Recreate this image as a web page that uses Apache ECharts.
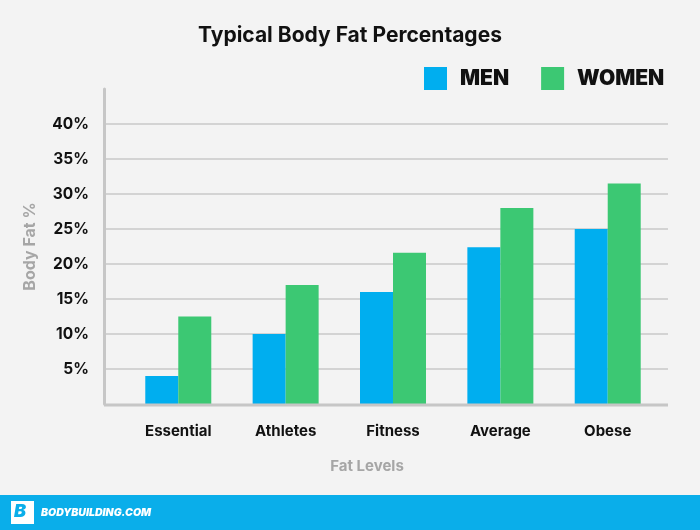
<!DOCTYPE html>
<html><head><meta charset="utf-8">
<script src="https://cdn.jsdelivr.net/npm/echarts@6/dist/echarts.min.js"></script>
<style>html,body{margin:0;padding:0;background:#f3f3f3}#c{width:700px;height:530px}</style>
</head><body><div id="c"></div>
<script>
const categories = ['Essential', 'Athletes', 'Fitness', 'Average', 'Obese'];
const men = [4, 10, 16, 22.4, 25];
const women = [12.5, 17, 21.6, 28, 31.5];
const seriesNames = ['MEN', 'WOMEN'];
const yMin = 0, yMax = 45, yStep = 5;

const FONT = 'Inter, "Open Sans", sans-serif';
const chart = echarts.init(document.getElementById('c'), null, {renderer: 'canvas'});
chart.setOption({
  backgroundColor: '#f3f3f3',
  animation: false,
  title: [{
    text: 'Typical Body Fat Percentages', left: 'center', top: 20,
    textStyle: {fontFamily: FONT, fontWeight: 'bold', fontSize: 21, color: '#111'}
  }, {
    text: 'Fat Levels', left: 362, top: 454, textAlign: 'center',
    textStyle: {fontFamily: FONT, fontWeight: 'bold', fontSize: 15, color: '#a6a6a6'}
  }],
  legend: {
    data: seriesNames, left: 424, top: 67, padding: 0, itemWidth: 23, itemHeight: 23, itemGap: 32,
    icon: 'rect',
    textStyle: {fontFamily: FONT, fontWeight: 900, fontSize: 21, color: '#111', padding: [0, 0, 0, 8]}
  },
  grid: [
    {left: 104, right: 32, top: 89, bottom: 126},
    {left: 124.6, right: 38.6, top: 89, bottom: 126}
  ],
  xAxis: [{
    gridIndex: 0, type: 'value', min: 0, max: 1, show: true,
    axisLine: {show: false}, axisTick: {show: false}, axisLabel: {show: false}, splitLine: {show: false}
  }, {
    gridIndex: 1, type: 'category', data: categories,
    axisLine: {show: false}, axisTick: {show: false},
    axisLabel: {margin: 20, fontFamily: FONT, fontWeight: 'bold', fontSize: 15, color: '#111'}
  }],
  yAxis: [{
    gridIndex: 0, type: 'value', min: yMin, max: yMax, interval: yStep,
    name: 'Body Fat %', nameLocation: 'middle', nameGap: 66,
    nameTextStyle: {fontFamily: FONT, fontWeight: 'bold', fontSize: 16, color: '#a6a6a6'},
    axisLine: {show: true, lineStyle: {color: '#c6c6c6', width: 3}},
    axisTick: {show: false},
    axisLabel: {margin: 15, showMinLabel: false, showMaxLabel: false, formatter: '{value}%',
      fontFamily: FONT, fontWeight: 'bold', fontSize: 15.5, color: '#111'},
    splitLine: {show: true, showMinLine: false, showMaxLine: false, lineStyle: {color: '#c9c9c9', width: 1.5}}
  }, {
    gridIndex: 1, type: 'value', min: yMin, max: yMax, interval: yStep, show: false
  }],
  series: [{
    name: seriesNames[0], type: 'bar', xAxisIndex: 1, yAxisIndex: 1, data: men,
    barWidth: 33, barGap: '0%', itemStyle: {color: '#00aeef'}
  }, {
    name: seriesNames[1], type: 'bar', xAxisIndex: 1, yAxisIndex: 1, data: women,
    barWidth: 33, barGap: '0%', itemStyle: {color: '#3cc873'}
  }],
  graphic: [
    {type: 'line', z: 10, shape: {x1: 104, y1: 405, x2: 668, y2: 405}, style: {stroke: '#c6c6c6', lineWidth: 3}},
    {type: 'rect', shape: {x: 0, y: 495, width: 700, height: 35}, style: {fill: '#0aaeea'}},
    {type: 'rect', shape: {x: 11, y: 501, width: 23, height: 23}, style: {fill: '#ffffff'}},
    {type: 'text', left: 14, top: 503, style: {text: 'B', fill: '#0aaeea', font: 'italic 900 18px ' + FONT}},
    {type: 'text', left: 41, top: 507, style: {text: 'BODYBUILDING.COM', fill: '#ffffff', font: 'italic 900 10.5px ' + FONT}}
  ]
});
</script></body></html>
